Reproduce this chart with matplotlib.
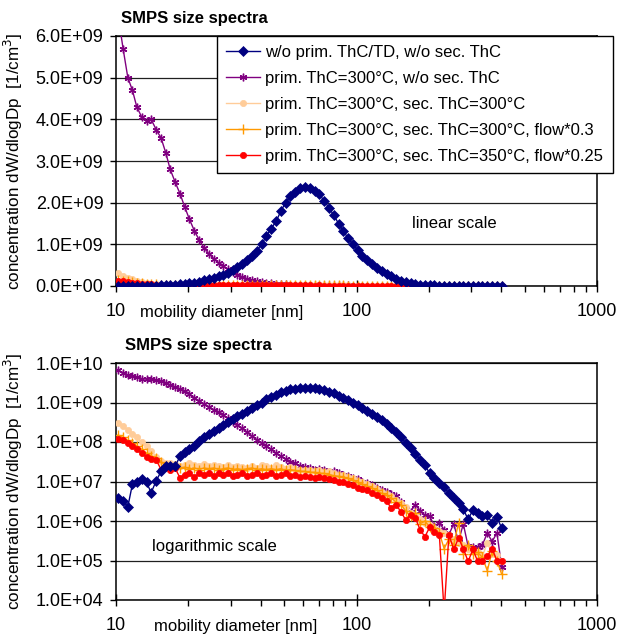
#!/usr/bin/env python3
import matplotlib

matplotlib.use("Agg")
import matplotlib.pyplot as plt
from matplotlib.ticker import FixedLocator, FuncFormatter, NullFormatter

plt.rcParams["font.family"] = ["Liberation Sans", "DejaVu Sans"]

# SMPS channels (mobility diameter, nm)
diameter_nm = [
    10.2, 10.7, 11.2, 11.7, 12.2, 12.8, 13.4, 14.0, 14.7, 15.4,
    16.1, 16.8, 17.6, 18.5, 19.3, 20.2, 21.2, 22.2, 23.2, 24.3,
    25.5, 26.7, 27.9, 29.2, 30.6, 32.0, 33.5, 35.1, 36.8, 38.5,
    40.3, 42.2, 44.2, 46.3, 48.5, 50.7, 53.1, 55.6, 58.3, 61.0,
    63.9, 66.9, 70.0, 73.3, 76.8, 80.4, 84.2, 88.1, 92.3, 96.6,
    101.2, 105.9, 110.9, 116.1, 121.6, 127.3, 133.3, 139.6, 146.1, 153.0,
    160.2, 167.7, 175.6, 183.9, 192.5, 201.6, 211.0, 221.0, 231.4, 242.2,
    253.6, 265.6, 278.0, 291.1, 304.8, 319.1, 334.1, 349.8, 366.3, 383.5,
    401.5,
]

# concentration dW/dlogDp [1/cm3]
conc_no_thc = [
    3.9e6, 3.2e6, 2.3e6, 8.5e6, 9.5e6, 1.15e7, 9.5e6, 5.2e6, 1.05e7, 1.8e7,
    2.4e7, 2.5e7, 2.4e7, 4.5e7, 5.5e7, 6.5e7, 7.8e7, 1.05e8, 1.35e8, 1.6e8,
    1.95e8, 2.3e8, 2.7e8, 3.2e8, 3.9e8, 4.5e8, 5.2e8, 6.2e8, 7.3e8, 8.5e8,
    1.0e9, 1.2e9, 1.38e9, 1.55e9, 1.8e9, 2.0e9, 2.15e9, 2.25e9, 2.35e9, 2.38e9,
    2.35e9, 2.28e9, 2.2e9, 2.05e9, 1.88e9, 1.7e9, 1.5e9, 1.32e9, 1.15e9, 1.0e9,
    8.6e8, 7.3e8, 6.2e8, 5.2e8, 4.3e8, 3.6e8, 2.9e8, 2.3e8, 1.75e8, 1.3e8,
    9.5e7, 7.0e7, 5.0e7, 3.6e7, 2.6e7, 1.6e7, 1.25e7, 9.0e6, 7.2e6, 5.0e6,
    3.8e6, 2.8e6, 2.0e6, 1.1e6, 1.9e6, 1.6e6, 1.3e6, 1.4e6, 9.0e5, 1.25e6,
    6.6e5,
]
conc_prim300 = [
    6.5e9, 5.7e9, 5.0e9, 4.7e9, 4.3e9, 4.05e9, 3.95e9, 4.0e9, 3.75e9, 3.55e9,
    3.2e9, 2.8e9, 2.5e9, 2.2e9, 1.9e9, 1.6e9, 1.32e9, 1.1e9, 9.2e8, 7.8e8,
    6.6e8, 5.6e8, 4.7e8, 4.0e8, 3.3e8, 2.7e8, 2.2e8, 1.75e8, 1.4e8, 1.15e8,
    9.5e7, 8.0e7, 6.5e7, 5.2e7, 4.3e7, 3.7e7, 3.2e7, 2.9e7, 2.5e7, 2.3e7,
    2.2e7, 2.0e7, 2.1e7, 1.9e7, 1.75e7, 1.8e7, 1.6e7, 1.5e7, 1.35e7, 1.2e7,
    1.15e7, 1.0e7, 9.0e6, 8.0e6, 7.0e6, 6.2e6, 5.5e6, 4.8e6, 4.4e6, 3.0e6,
    2.0e6, 1.7e6, 2.6e6, 1.8e6, 1.4e6, 1.3e6, 7.5e5, 9.0e5, 6.0e5, 4.5e5,
    8.5e5, 3.0e5, 8.5e5, 2.3e5, 2.2e5, 2.2e5, 2.5e5, 5.0e5, 3.0e5, 5.0e5,
    7.0e4,
]
conc_sec300 = [
    3.1e8, 2.5e8, 2.0e8, 1.6e8, 1.3e8, 1.0e8, 7.8e7, 6.0e7, 4.2e7, 3.3e7,
    2.9e7, 3.0e7, 2.8e7, 2.5e7, 2.6e7, 2.9e7, 2.6e7, 2.5e7, 2.8e7, 2.4e7,
    2.6e7, 2.4e7, 2.3e7, 2.6e7, 2.3e7, 2.5e7, 2.3e7, 2.2e7, 2.4e7, 2.2e7,
    2.6e7, 2.5e7, 2.2e7, 2.6e7, 2.3e7, 2.1e7, 2.3e7, 2.1e7, 2.0e7, 1.9e7,
    2.0e7, 1.8e7, 1.9e7, 1.7e7, 1.8e7, 1.6e7, 1.5e7, 1.45e7, 1.3e7, 1.2e7,
    1.05e7, 9.5e6, 8.5e6, 7.5e6, 6.5e6, 5.5e6, 4.8e6, 4.2e6, 3.5e6, 2.8e6,
    2.2e6, 1.6e6, 1.4e6, 1.1e6, 9.0e5, 8.0e5, 6.5e5, 5.5e5, 5.0e5, 4.5e5,
    3.5e5, 2.8e5, 2.5e5, 2.0e5, 1.8e5, 1.6e5, 1.3e5, 2.8e5, 1.5e5, 1.4e5,
    1.0e5,
]
conc_sec300_flow03 = [
    1.5e8, 1.3e8, 1.1e8, 9.5e7, 8.0e7, 6.5e7, 5.2e7, 4.5e7, 4.0e7, 3.2e7,
    2.5e7, 2.2e7, 2.4e7, 2.2e7, 2.3e7, 2.1e7, 2.2e7, 2.0e7, 2.2e7, 2.1e7,
    2.2e7, 2.0e7, 2.1e7, 2.2e7, 2.0e7, 2.1e7, 2.0e7, 2.1e7, 2.2e7, 2.0e7,
    2.1e7, 2.0e7, 2.1e7, 2.0e7, 2.1e7, 1.9e7, 2.0e7, 1.9e7, 1.8e7, 1.8e7,
    1.7e7, 1.7e7, 1.6e7, 1.6e7, 1.5e7, 1.4e7, 1.35e7, 1.3e7, 1.2e7, 1.1e7,
    9.5e6, 8.5e6, 7.5e6, 6.8e6, 6.0e6, 5.0e6, 4.5e6, 3.8e6, 3.0e6, 2.6e6,
    1.8e6, 1.3e6, 1.6e6, 8.5e5, 1.0e6, 7.0e5, 6.5e5, 5.0e5, 2.0e5, 3.5e5,
    2.5e5, 9.0e5, 1.5e5, 2.5e5, 1.5e5, 1.6e5, 1.2e5, 5.5e4, 1.7e5, 1.0e5,
    4.5e4,
]
conc_sec350_flow025 = [
    1.2e8, 1.15e8, 9.5e7, 8.0e7, 6.5e7, 5.2e7, 4.2e7, 3.8e7, 3.5e7, 2.0e7,
    2.3e7, 1.9e7, 2.2e7, 1.2e7, 1.5e7, 1.6e7, 1.3e7, 1.6e7, 1.5e7, 1.6e7,
    1.4e7, 1.6e7, 1.5e7, 1.6e7, 1.4e7, 1.5e7, 1.6e7, 1.4e7, 1.5e7, 1.6e7,
    1.4e7, 1.5e7, 1.6e7, 1.4e7, 1.5e7, 1.6e7, 1.4e7, 1.5e7, 1.3e7, 1.4e7,
    1.3e7, 1.2e7, 1.3e7, 1.2e7, 1.15e7, 1.1e7, 1.0e7, 9.5e6, 8.5e6, 8.0e6,
    7.0e6, 6.5e6, 6.0e6, 5.0e6, 4.5e6, 3.8e6, 3.2e6, 2.1e6, 2.6e6, 1.7e6,
    1.07e6, 1.4e6, 1.2e6, 6.0e5, 4.0e5, 7.0e5, 5.4e5, 4.5e5, 5.0e3, 4.5e5,
    1.9e5, 3.7e5, 2.0e5, 9.5e4, 1.9e5, 9.5e4, 9.5e4, 1.3e5, 2.0e5, 1.0e5,
    1.0e5,
]

series_labels = [
    "w/o prim. ThC/TD, w/o sec. ThC",
    "prim. ThC=300°C, w/o sec. ThC",
    "prim. ThC=300°C, sec. ThC=300°C",
    "prim. ThC=300°C, sec. ThC=300°C, flow*0.3",
    "prim. ThC=300°C, sec. ThC=350°C, flow*0.25",
]
linear_ticks = [0.0, 1.0e9, 2.0e9, 3.0e9, 4.0e9, 5.0e9, 6.0e9]
log_ticks = [1e4, 1e5, 1e6, 1e7, 1e8, 1e9, 1e10]
x_ticks = [10, 100, 1000]

STYLES = [
    dict(color="#000080", marker="D", ms=5.5, mew=0.5),
    dict(color="#800080", marker=(6, 2, 0), ms=5.5, mew=1.0),
    dict(color="#FFCC99", marker="o", ms=4.5, mew=0.5),
    dict(color="#FF9900", marker="+", ms=6.5, mew=1.0),
    dict(color="#FF0000", marker="o", ms=4.5, mew=0.5),
]

W, H = 623, 636
FS_TICK = 13
FS = 12


def sci(v, _pos):
    return f"{v:.1E}"


def style_axes(ax, yticks):
    ax.set_xscale("log")
    ax.set_xlim(10, 1000)
    ax.xaxis.set_major_locator(FixedLocator(x_ticks))
    ax.xaxis.set_major_formatter(FuncFormatter(lambda v, p: f"{v:g}"))
    minor = [m * d for d in (10, 100) for m in range(2, 10)]
    ax.xaxis.set_minor_locator(FixedLocator(minor))
    ax.xaxis.set_minor_formatter(NullFormatter())
    ax.yaxis.set_major_locator(FixedLocator(yticks))
    ax.yaxis.set_major_formatter(FuncFormatter(sci))
    ax.yaxis.set_minor_locator(FixedLocator([]))
    ax.tick_params(axis="x", which="major", direction="inout", length=9, width=1,
                   pad=8, labelsize=FS_TICK)
    ax.tick_params(axis="x", which="minor", direction="out", length=4, width=1)
    ax.tick_params(axis="y", which="major", direction="out", length=4, width=1,
                   pad=5, labelsize=FS_TICK)
    ax.grid(axis="y", which="major", color="#202020", lw=0.9)
    ax.grid(axis="x", visible=False)
    ax.set_axisbelow(True)
    for sp in ax.spines.values():
        sp.set_color("black")
        sp.set_linewidth(1.1)
    ax.set_ylabel("concentration dW/dlogDp  [1/cm$^3$]", fontsize=12.3)
    ax.yaxis.set_label_coords(-0.19, 0.5)


def plot_series(ax):
    data = [conc_no_thc, conc_prim300, conc_sec300, conc_sec300_flow03, conc_sec350_flow025]
    order = [1, 2, 3, 4, 0]
    handles = [None] * 5
    for i in order:
        st = STYLES[i]
        (ln,) = ax.plot(diameter_nm, data[i], color=st["color"], lw=1.0,
                        marker=st["marker"], ms=st["ms"], mew=st["mew"],
                        mec=st["color"], mfc=st["color"], label=series_labels[i],
                        zorder=3 + (1 if i == 0 else 0))
        handles[i] = ln
    return handles


fig = plt.figure(figsize=(W / 100, H / 100), dpi=100)

# top: linear scale
ax1 = fig.add_axes([116 / W, 1 - 286 / H, 481 / W, 250 / H])
handles = plot_series(ax1)
style_axes(ax1, linear_ticks)
ax1.set_ylim(0, 6.0e9)
ax1.set_xlabel("mobility diameter [nm]", fontsize=FS)
ax1.xaxis.set_label_coords((222 - 116) / 481, -(312 - 286) / 250)
ax1.xaxis.label.set_va("center")
ax1.text((412 - 116) / 481, (286 - 224) / 250, "linear scale", transform=ax1.transAxes,
         fontsize=FS, va="center", ha="left")
leg = ax1.legend(handles=handles, loc="upper left",
                 bbox_to_anchor=(217 / W, 1 - 36 / H), bbox_transform=fig.transFigure,
                 fontsize=FS, frameon=True, fancybox=False, framealpha=1,
                 edgecolor="black", handlelength=2.0, labelspacing=0.66,
                 borderpad=0.55, handletextpad=0.35, borderaxespad=0)
leg.get_frame().set_linewidth(1.0)
leg.set_zorder(10)
fig.text(121 / W, 1 - 18 / H, "SMPS size spectra", fontsize=FS, fontweight="bold",
         va="center", ha="left")

# bottom: logarithmic scale
ax2 = fig.add_axes([116 / W, 1 - 600 / H, 481 / W, 237 / H])
plot_series(ax2)
ax2.set_yscale("log")
style_axes(ax2, log_ticks)
ax2.set_ylim(1e4, 1e10)
ax2.set_xlabel("mobility diameter [nm]", fontsize=FS)
ax2.xaxis.set_label_coords((236 - 116) / 481, -(626 - 600) / 237)
ax2.xaxis.label.set_va("center")
ax2.text((152 - 116) / 481, (600 - 547) / 237, "logarithmic scale", transform=ax2.transAxes,
         fontsize=FS, va="center", ha="left")
fig.text(125 / W, 1 - 345 / H, "SMPS size spectra", fontsize=FS, fontweight="bold",
         va="center", ha="left")

fig.savefig("out.png", dpi=100)
